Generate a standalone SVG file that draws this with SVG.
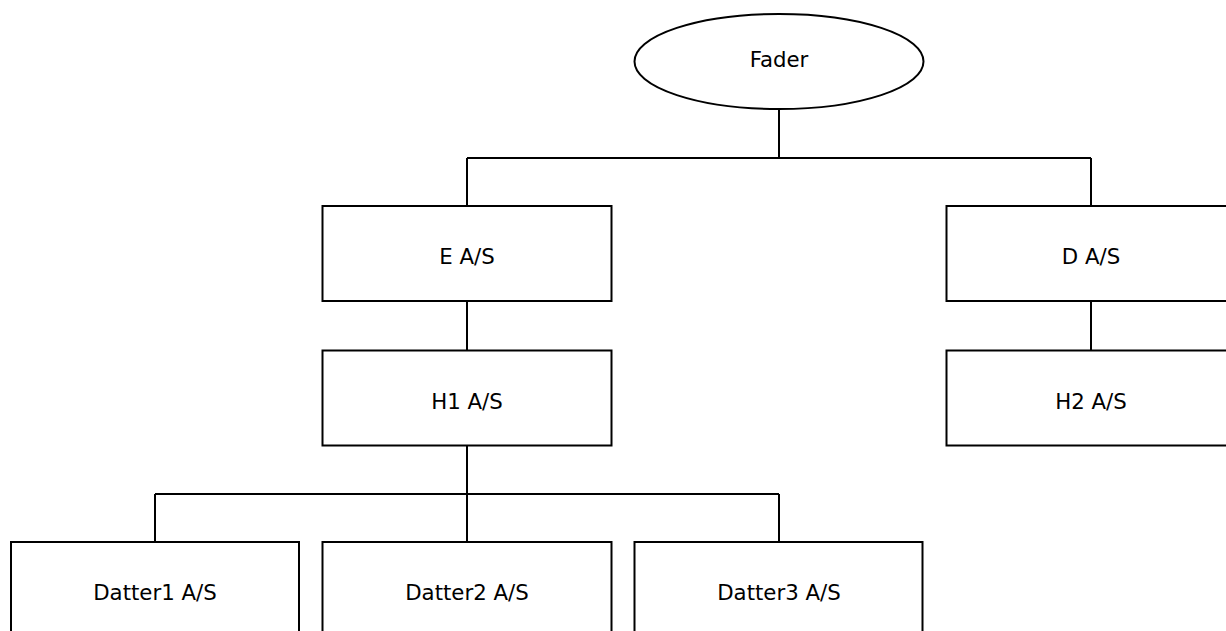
<svg xmlns="http://www.w3.org/2000/svg" width="1226" height="631" viewBox="0 0 1226 631">
  <style>
    .shape { fill: #ffffff; stroke: #000000; stroke-width: 2; }
    .wire { fill: none; stroke: #000000; stroke-width: 2; }
    .label { font-family: "DejaVu Sans", Verdana, sans-serif; font-size: 21.3px; fill: #000000; text-anchor: middle; }
  </style>
  <rect x="0" y="0" width="1226" height="631" fill="#ffffff"/>

  <!-- connectors -->
  <g id="connectors">
    <path class="wire" d="M779 109 V158 M467 158 H1091 M467 158 V206 M1091 158 V206"/>
    <path class="wire" d="M467 301 V350"/>
    <path class="wire" d="M1091 301 V350"/>
    <path class="wire" d="M467 446 V494 M155 494 H779 M155 494 V542 M467 494 V542 M779 494 V542"/>
  </g>

  <g id="fader">
    <ellipse class="shape" cx="779" cy="61.5" rx="144.5" ry="47.5"/>
    <text class="label" x="779" y="67.3">Fader</text>
  </g>

  <g id="e-as">
    <rect class="shape" x="322.5" y="206" width="289" height="95"/>
    <text class="label" x="467" y="264">E A/S</text>
  </g>

  <g id="d-as">
    <rect class="shape" x="946.5" y="206" width="289" height="95"/>
    <text class="label" x="1091" y="264">D A/S</text>
  </g>

  <g id="h1-as">
    <rect class="shape" x="322.5" y="350.5" width="289" height="95"/>
    <text class="label" x="467" y="408.5">H1 A/S</text>
  </g>

  <g id="h2-as">
    <rect class="shape" x="946.5" y="350.5" width="289" height="95"/>
    <text class="label" x="1091" y="408.5">H2 A/S</text>
  </g>

  <g id="datter1-as">
    <rect class="shape" x="11" y="542" width="288" height="95"/>
    <text class="label" x="155" y="600">Datter1 A/S</text>
  </g>

  <g id="datter2-as">
    <rect class="shape" x="322.5" y="542" width="289" height="95"/>
    <text class="label" x="467" y="600">Datter2 A/S</text>
  </g>

  <g id="datter3-as">
    <rect class="shape" x="634.5" y="542" width="288" height="95"/>
    <text class="label" x="779" y="600">Datter3 A/S</text>
  </g>
</svg>
